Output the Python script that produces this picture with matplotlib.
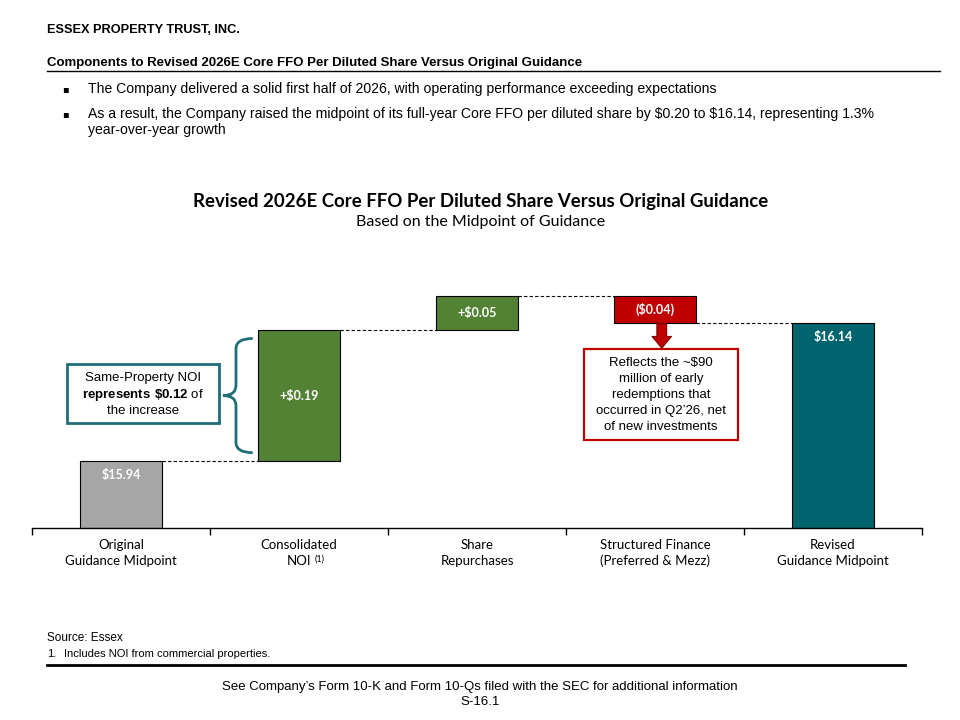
import numpy as np
import matplotlib
matplotlib.use('Agg')
import matplotlib.pyplot as plt
import matplotlib.patches as patches
from matplotlib.path import Path
from matplotlib.lines import Line2D

# data
categories = ['Original\nGuidance Midpoint', 'Consolidated\nNOI', 'Share\nRepurchases',
              'Structured Finance\n(Preferred & Mezz)', 'Revised\nGuidance Midpoint']
footnote_marks = ['', '(1)', '', '', '']
start_value = 15.94
changes = [0.19, 0.05, -0.04]
end_value = 16.14
value_labels = ['$15.94', '+$0.19', '+$0.05', '($0.04)', '$16.14']

plt.rcParams['mathtext.fontset'] = 'custom'
plt.rcParams['mathtext.rm'] = 'Liberation Sans'
plt.rcParams['mathtext.bf'] = 'Liberation Sans:bold'

sans = ['Liberation Sans']
lato = ['Lato', 'DejaVu Sans']
green = '#548235'
red = '#C00000'
teal = '#00646E'
gray = '#A6A6A6'
brace_col = '#1F6E78'

fig = plt.figure(figsize=(9.6, 7.2), dpi=100)

def fy(px):
    return 1 - px / 720

def fx(px):
    return px / 960

# header
fig.text(fx(47), fy(30), 'ESSEX PROPERTY TRUST, INC.', family=sans, fontsize=9.2, weight='bold', va='center')
fig.text(fx(47), fy(63), 'Components to Revised 2026E Core FFO Per Diluted Share Versus Original Guidance',
         family=sans, fontsize=9.5, weight='bold', va='center')
fig.add_artist(Line2D([fx(47), fx(940)], [fy(71), fy(71)], color='black', lw=1))

bullets = [(89, 'The Company delivered a solid first half of 2026, with operating performance exceeding expectations'),
           (114, 'As a result, the Company raised the midpoint of its full-year Core FFO per diluted share by $0.20 to $16.14, representing 1.3%'),
           (130, 'year-over-year growth')]
for i, (ypx, txt) in enumerate(bullets):
    if i < 2:
        fig.text(fx(62), fy(ypx), '\u25aa', family=['DejaVu Sans'], fontsize=7, va='center')
    fig.text(fx(88), fy(ypx), txt, family=sans, fontsize=10.1, va='center', parse_math=False)

# chart titles
fig.text(fx(481), fy(201), 'Revised 2026E Core FFO Per Diluted Share Versus Original Guidance',
         family=lato, fontsize=13.4, weight='bold', ha='center', va='center')
fig.text(fx(481), fy(222), 'Based on the Midpoint of Guidance',
         family=lato, fontsize=11.5, ha='center', va='center')

# waterfall
ax = fig.add_axes([fx(32), fy(528), fx(922) - fx(32), fy(280) - fy(528)])
ymin, ymax = 15.8425, 16.203
ax.set_xlim(-0.5, 4.5)
ax.set_ylim(ymin, ymax)

running = [start_value]
for c in changes:
    running.append(running[-1] + c)
bottoms = [ymin]
heights = [start_value - ymin]
for i, c in enumerate(changes):
    bottoms.append(min(running[i], running[i + 1]))
    heights.append(abs(c))
bottoms.append(ymin)
heights.append(end_value - ymin)
colors = [gray] + [green if c > 0 else red for c in changes] + [teal]

x = np.arange(len(categories))
w = 0.466
ax.bar(x, heights, bottom=bottoms, width=w, color=colors, edgecolor='black', linewidth=0.8)

# connectors
levels = running + [end_value]
for i in range(len(categories) - 1):
    ax.plot([x[i] + w / 2, x[i + 1] - w / 2], [levels[i], levels[i]], color='black',
            lw=0.8, ls=(0, (3, 2)))

# value labels
for i, lab in enumerate(value_labels):
    if i == 0 or i == len(value_labels) - 1:
        ax.annotate(lab, (x[i], bottoms[i] + heights[i]), xytext=(0, -10), textcoords='offset points',
                    ha='center', va='center', color='white', weight='bold', fontsize=9, family=lato,
                    parse_math=False)
    else:
        ax.text(x[i], bottoms[i] + heights[i] / 2, lab, ha='center', va='center', color='white',
                weight='bold', fontsize=9, family=lato, parse_math=False)

# axis styling
for s in ['left', 'right', 'top']:
    ax.spines[s].set_visible(False)
ax.spines['bottom'].set_linewidth(1)
ax.set_yticks([])
ax.set_xticks(x)
ax.set_xticklabels([])
ax.tick_params(axis='x', which='major', length=0)
ax.set_xticks(np.arange(-0.5, 5, 1), minor=True)
ax.tick_params(axis='x', which='minor', length=5, width=1, direction='out')

# category labels, one text per line so the footnote mark sits beside "NOI"
xt_trans = ax.get_xaxis_transform()
for i, cat in enumerate(categories):
    for j, line in enumerate(cat.split('\n')):
        t = ax.annotate(line, (x[i], 0), xycoords=xt_trans, xytext=(0, -12.3 - 11.6 * j),
                        textcoords='offset points', ha='center', va='center', fontsize=9.5, family=lato)
    if footnote_marks[i]:
        ax.annotate(footnote_marks[i], (x[i], 0), xycoords=xt_trans, xytext=(14.8, -22.3),
                    textcoords='offset points', ha='center', va='center', fontsize=6.5, family=lato)

# brace next to consolidated NOI bar
b_top = bottoms[1] + heights[1] - 0.012
b_bot = bottoms[1] + 0.012
b_mid = (b_top + b_bot) / 2
xe, xm, xt = x[1] - 0.26, x[1] - 0.354, x[1] - 0.427
r = 0.015
verts = [(xe, b_top), (xm, b_top), (xm, b_top - r), (xm, b_mid + r), (xm, b_mid), (xt, b_mid),
         (xm, b_mid), (xm, b_mid - r), (xm, b_bot + r), (xm, b_bot), (xe, b_bot)]
codes = [Path.MOVETO, Path.CURVE3, Path.CURVE3, Path.LINETO, Path.CURVE3, Path.CURVE3,
         Path.CURVE3, Path.CURVE3, Path.LINETO, Path.CURVE3, Path.CURVE3]
ax.add_patch(patches.PathPatch(Path(verts, codes), fill=False, edgecolor=brace_col, lw=2))

# left callout box
ax.add_patch(patches.Rectangle((-0.303, 15.995), 0.854, 0.086, facecolor='white',
                               edgecolor=brace_col, lw=2))
ax.text(0.124, 16.060, 'Same-Property NOI', ha='center', va='center', fontsize=9.5, family=sans)
ax.text(0.124, 16.036, r'$\mathbf{represents\ \$0.12}$ of', ha='center', va='center',
        fontsize=9.5, family=sans)
ax.text(0.124, 16.013, 'the increase', ha='center', va='center', fontsize=9.5, family=sans)

# red arrow + callout box
ax.annotate('', xy=(3.038, 16.104), xytext=(3.038, levels[3] - 0.0005),
            arrowprops=dict(arrowstyle='simple,head_length=0.6,head_width=1.0,tail_width=0.5',
                            fc=red, ec='#7F0000', lw=0.8, mutation_scale=14, shrinkA=0, shrinkB=0))
ax.add_patch(patches.Rectangle((2.601, 15.971), 0.865, 0.132, facecolor='white', edgecolor=red, lw=1.6))
ax.text(3.034, 16.036, 'Reflects the ~$90\nmillion of early\nredemptions that\noccurred in Q2\u201926, net\nof new investments',
        ha='center', va='center', fontsize=9.5, family=sans, linespacing=1.45, parse_math=False)

# footer
fig.text(fx(47), fy(638), 'Source: Essex', family=sans, fontsize=8.5, va='center')
fig.text(fx(47), fy(654), '1.', family=sans, fontsize=8, va='center')
fig.text(fx(64), fy(654), 'Includes NOI from commercial properties.', family=sans, fontsize=8, va='center')
fig.add_artist(Line2D([fx(47), fx(905)], [fy(665), fy(665)], color='black', lw=2))
fig.text(fx(480), fy(687), 'See Company\u2019s Form 10-K and Form 10-Qs filed with the SEC for additional information',
         family=sans, fontsize=9.5, ha='center', va='center')
fig.text(fx(480), fy(702), 'S-16.1', family=sans, fontsize=9.5, ha='center', va='center')

fig.savefig('out.png', dpi=100)
